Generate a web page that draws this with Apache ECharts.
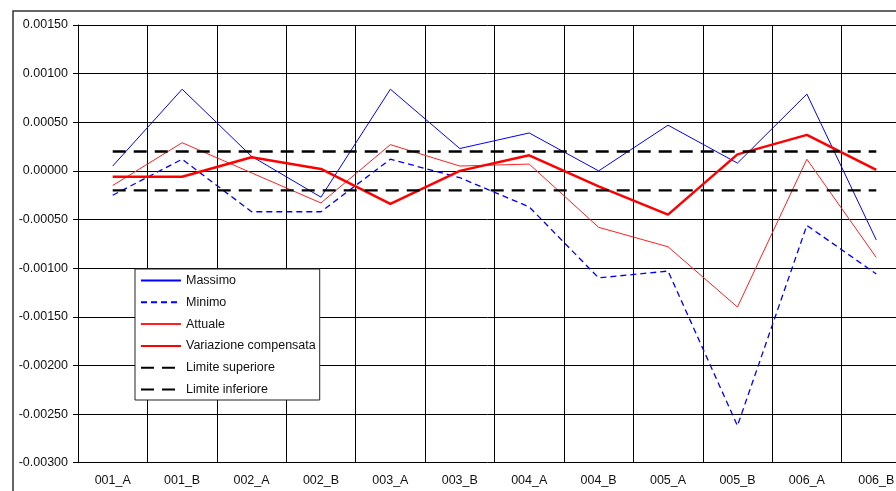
<!DOCTYPE html>
<html>
<head>
<meta charset="utf-8">
<script src="https://cdn.jsdelivr.net/npm/echarts@6/dist/echarts.min.js"></script>
<style>
  html, body { margin: 0; padding: 0; background: #fff; }
  #chart { width: 896px; height: 491px; }
</style>
</head>
<body>
<div id="chart"></div>
<script>
// Categories along the x axis
const categories = ['001_A', '001_B', '002_A', '002_B', '003_A', '003_B',
                    '004_A', '004_B', '005_A', '005_B', '006_A', '006_B'];

// Series values
const massimo     = [0.00005, 0.00084, 0.00015, -0.00027, 0.00084, 0.00023,
                     0.00039, 0.00000, 0.00047, 0.00008, 0.00079, -0.00071];
const minimo      = [-0.00025, 0.00012, -0.00042, -0.00042, 0.00012, -0.00007,
                     -0.00037, -0.00110, -0.00103, -0.00262, -0.00056, -0.00106];
const attuale     = [-0.00015, 0.00029, -0.00002, -0.00033, 0.00027, 0.00005,
                     0.00007, -0.00058, -0.00078, -0.00140, 0.00012, -0.00089];
const variazione  = [-0.00006, -0.00006, 0.00014, 0.00002, -0.00034, 0.00000,
                     0.00016, -0.00016, -0.00045, 0.00017, 0.00037, 0.00001];
const limiteSup   = [0.0002, 0.0002, 0.0002, 0.0002, 0.0002, 0.0002,
                     0.0002, 0.0002, 0.0002, 0.0002, 0.0002, 0.0002];
const limiteInf   = [-0.0002, -0.0002, -0.0002, -0.0002, -0.0002, -0.0002,
                     -0.0002, -0.0002, -0.0002, -0.0002, -0.0002, -0.0002];

// Value axis range
const yMin = -0.003, yMax = 0.0015, yStep = 0.0005;

const font = 'Liberation Sans, Arial, sans-serif';
const chart = echarts.init(document.getElementById('chart'), null, { renderer: 'canvas' });

function lineSeries(name, data, color, width, dash) {
  return {
    name: name,
    type: 'line',
    data: data,
    symbol: 'none',
    smooth: false,
    animation: false,
    lineStyle: { color: color, width: width, type: dash || 'solid' },
    itemStyle: { color: color },
    z: 3
  };
}

chart.setOption({
  animation: false,
  backgroundColor: '#fff',
  graphic: [{
    type: 'rect',
    shape: { x: 13, y: 11, width: 900, height: 500 },
    style: { fill: 'none', stroke: '#333', lineWidth: 1.5 },
    z: -1,
    silent: true
  }],
  // plot area runs past the right edge of the canvas
  grid: {
    left: 78, top: 25, width: 833, height: 437.7,
    containLabel: false,
    outerBoundsMode: 'none'
  },
  legend: {
    orient: 'vertical',
    left: 135,
    top: 269,
    width: 187,
    padding: [5, 4, 4, 5],
    itemWidth: 40,
    itemHeight: 12,
    itemGap: 8.8,
    backgroundColor: '#fff',
    borderColor: '#222',
    borderWidth: 1,
    itemStyle: { color: 'transparent', borderWidth: 0, opacity: 0 },
    textStyle: { fontFamily: font, fontSize: 12.5, color: '#111', padding: [0, 0, 0, 0] },
    data: ['Massimo', 'Minimo', 'Attuale', 'Variazione compensata', 'Limite superiore', 'Limite inferiore'],
    z: 10
  },
  xAxis: {
    type: 'category',
    data: categories,
    boundaryGap: true,
    axisLine: { show: true, lineStyle: { color: '#000', width: 1 } },
    axisTick: { show: true, length: 5, inside: false, lineStyle: { color: '#000' } },
    axisLabel: { fontFamily: font, fontSize: 12.5, color: '#111', margin: 11 },
    splitLine: { show: true, interval: 0, lineStyle: { color: '#000', width: 1 } }
  },
  yAxis: {
    type: 'value',
    min: yMin,
    max: yMax,
    interval: yStep,
    axisLine: { show: true, lineStyle: { color: '#000', width: 1 } },
    axisTick: { show: true, length: 5, lineStyle: { color: '#000' } },
    axisLabel: {
      fontFamily: font, fontSize: 12.5, color: '#111', margin: 10,
      formatter: v => v.toFixed(5)
    },
    splitLine: { show: true, lineStyle: { color: '#000', width: 1 } }
  },
  series: [
    lineSeries('Massimo', massimo, '#0000ff', 1),
    lineSeries('Minimo', minimo, '#0000ff', 1.3, [6, 4]),
    lineSeries('Attuale', attuale, '#ff2020', 1),
    lineSeries('Variazione compensata', variazione, '#ff0000', 2.5),
    lineSeries('Limite superiore', limiteSup, '#000', 2.4, [13, 8]),
    lineSeries('Limite inferiore', limiteInf, '#000', 2.4, [13, 8])
  ]
});
</script>
</body>
</html>
